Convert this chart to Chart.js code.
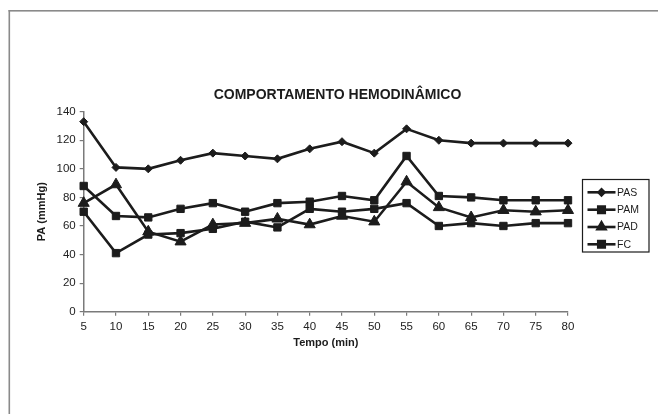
<!DOCTYPE html>
<html>
<head>
<meta charset="utf-8">
<script src="https://cdn.jsdelivr.net/npm/chart.js@4.4.1/dist/chart.umd.min.js"></script>
<style>
  html, body { margin: 0; padding: 0; background: #fff; }
  #wrap { width: 658px; height: 414px; }
</style>
</head>
<body>
<div id="wrap"><canvas id="chart" width="658" height="414"></canvas></div>
<script>
// dados
const tempos = ['5', '10', '15', '20', '25', '30', '35', '40', '45', '50', '55', '60', '65', '70', '75', '80'];
const pas = [133, 101, 100, 106, 111, 109, 107, 114, 119, 111, 128, 120, 118, 118, 118, 118];
const pam = [88, 67, 66, 72, 76, 70, 76, 77, 81, 78, 109, 81, 80, 78, 78, 78];
const pad = [76, 89, 56, 49, 61, 62, 65, 61, 67, 63, 91, 73, 66, 71, 70, 71];
const fc = [70, 41, 54, 55, 58, 63, 59, 72, 70, 72, 76, 60, 62, 60, 62, 62];
const yTicks = [0, 20, 40, 60, 80, 100, 120, 140];

const FONT = "'Liberation Sans', Arial, sans-serif";
const INK = '#1c1c1c';

function serie(label, data, style, radius) {
  return {
    label: label,
    data: data,
    borderColor: INK,
    backgroundColor: INK,
    borderWidth: 2.6,
    pointStyle: style,
    pointRadius: radius,
    pointHoverRadius: radius,
    pointBorderWidth: 1,
    pointBorderColor: INK,
    pointBackgroundColor: INK,
    tension: 0
  };
}

// moldura, título e legenda desenhados à mão
const extras = {
  id: 'extras',
  beforeDraw(chart) {
    const ctx = chart.ctx;
    ctx.save();
    ctx.fillStyle = '#fff';
    ctx.fillRect(0, 0, chart.width, chart.height);
    ctx.fillStyle = '#8a8a8a';
    ctx.fillRect(8.5, 10, chart.width, 1.6);
    ctx.fillRect(8.5, 10, 1.6, chart.height);
    ctx.restore();
  },
  afterDraw(chart) {
    const ctx = chart.ctx;
    ctx.save();
    ctx.fillStyle = INK;
    ctx.font = 'bold 14px ' + FONT;
    ctx.textAlign = 'center';
    ctx.textBaseline = 'middle';
    ctx.fillText('COMPORTAMENTO HEMODINÂMICO', 337.5, 95.5);

    // legenda
    ctx.strokeStyle = INK;
    ctx.lineWidth = 1.2;
    ctx.strokeRect(582.5, 179.5, 66.5, 72.5);
    const ys = [192.3, 209.7, 227, 244.3];
    const sizes = { rectRot: 3, triangle: 4.6, rect: 4.6 };
    ctx.font = '10.5px ' + FONT;
    ctx.textAlign = 'left';
    chart.data.datasets.forEach((ds, i) => {
      const y = ys[i];
      ctx.strokeStyle = INK;
      ctx.lineWidth = 2.6;
      ctx.beginPath();
      ctx.moveTo(587.5, y);
      ctx.lineTo(615.5, y);
      ctx.stroke();
      ctx.fillStyle = INK;
      Chart.helpers.drawPoint(ctx, {
        pointStyle: ds.pointStyle,
        radius: sizes[ds.pointStyle],
        rotation: 0,
        borderWidth: 1
      }, 601.5, y);
      ctx.fillStyle = INK;
      ctx.fillText(ds.label, 617, y + 0.5);
    });
    ctx.restore();
  }
};

new Chart(document.getElementById('chart'), {
  type: 'line',
  data: {
    labels: tempos,
    datasets: [
      serie('PAS', pas, 'rectRot', 4),
      serie('PAM', pam, 'rect', 5.2),
      serie('PAD', pad, 'triangle', 6.4),
      serie('FC', fc, 'rect', 5.2)
    ]
  },
  options: {
    responsive: false,
    animation: false,
    events: [],
    layout: { padding: { top: 111.7, left: 35.4, right: 90, bottom: 64.7 } },
    plugins: {
      legend: { display: false },
      title: { display: false },
      tooltip: { enabled: false }
    },
    scales: {
      x: {
        type: 'category',
        offset: false,
        afterFit: s => { s.height = 37.6; },
        border: { display: true, color: '#7a7a7a', width: 1.5 },
        grid: { display: true, drawOnChartArea: false, drawTicks: true, tickLength: 4, color: '#7a7a7a', lineWidth: 1.2 },
        ticks: { color: '#222', font: { family: FONT, size: 11.5 }, padding: 4, autoSkip: false, maxRotation: 0 },
        title: { display: true, text: 'Tempo (min)', color: INK, font: { family: FONT, size: 11, weight: 'bold' }, padding: 0 }
      },
      y: {
        min: 0,
        max: 140,
        afterFit: s => { s.width = 48.3; },
        afterBuildTicks: s => { s.ticks = yTicks.map(v => ({ value: v })); },
        border: { display: true, color: '#7a7a7a', width: 1.5 },
        grid: { display: true, drawOnChartArea: false, drawTicks: true, tickLength: 4, color: '#7a7a7a', lineWidth: 1.2 },
        ticks: { color: '#222', font: { family: FONT, size: 11.5 }, padding: 4 },
        title: { display: true, text: 'PA (mmHg)', color: INK, font: { family: FONT, size: 11, weight: 'bold' }, padding: 0 }
      }
    }
  },
  plugins: [extras]
});
</script>
</body>
</html>
